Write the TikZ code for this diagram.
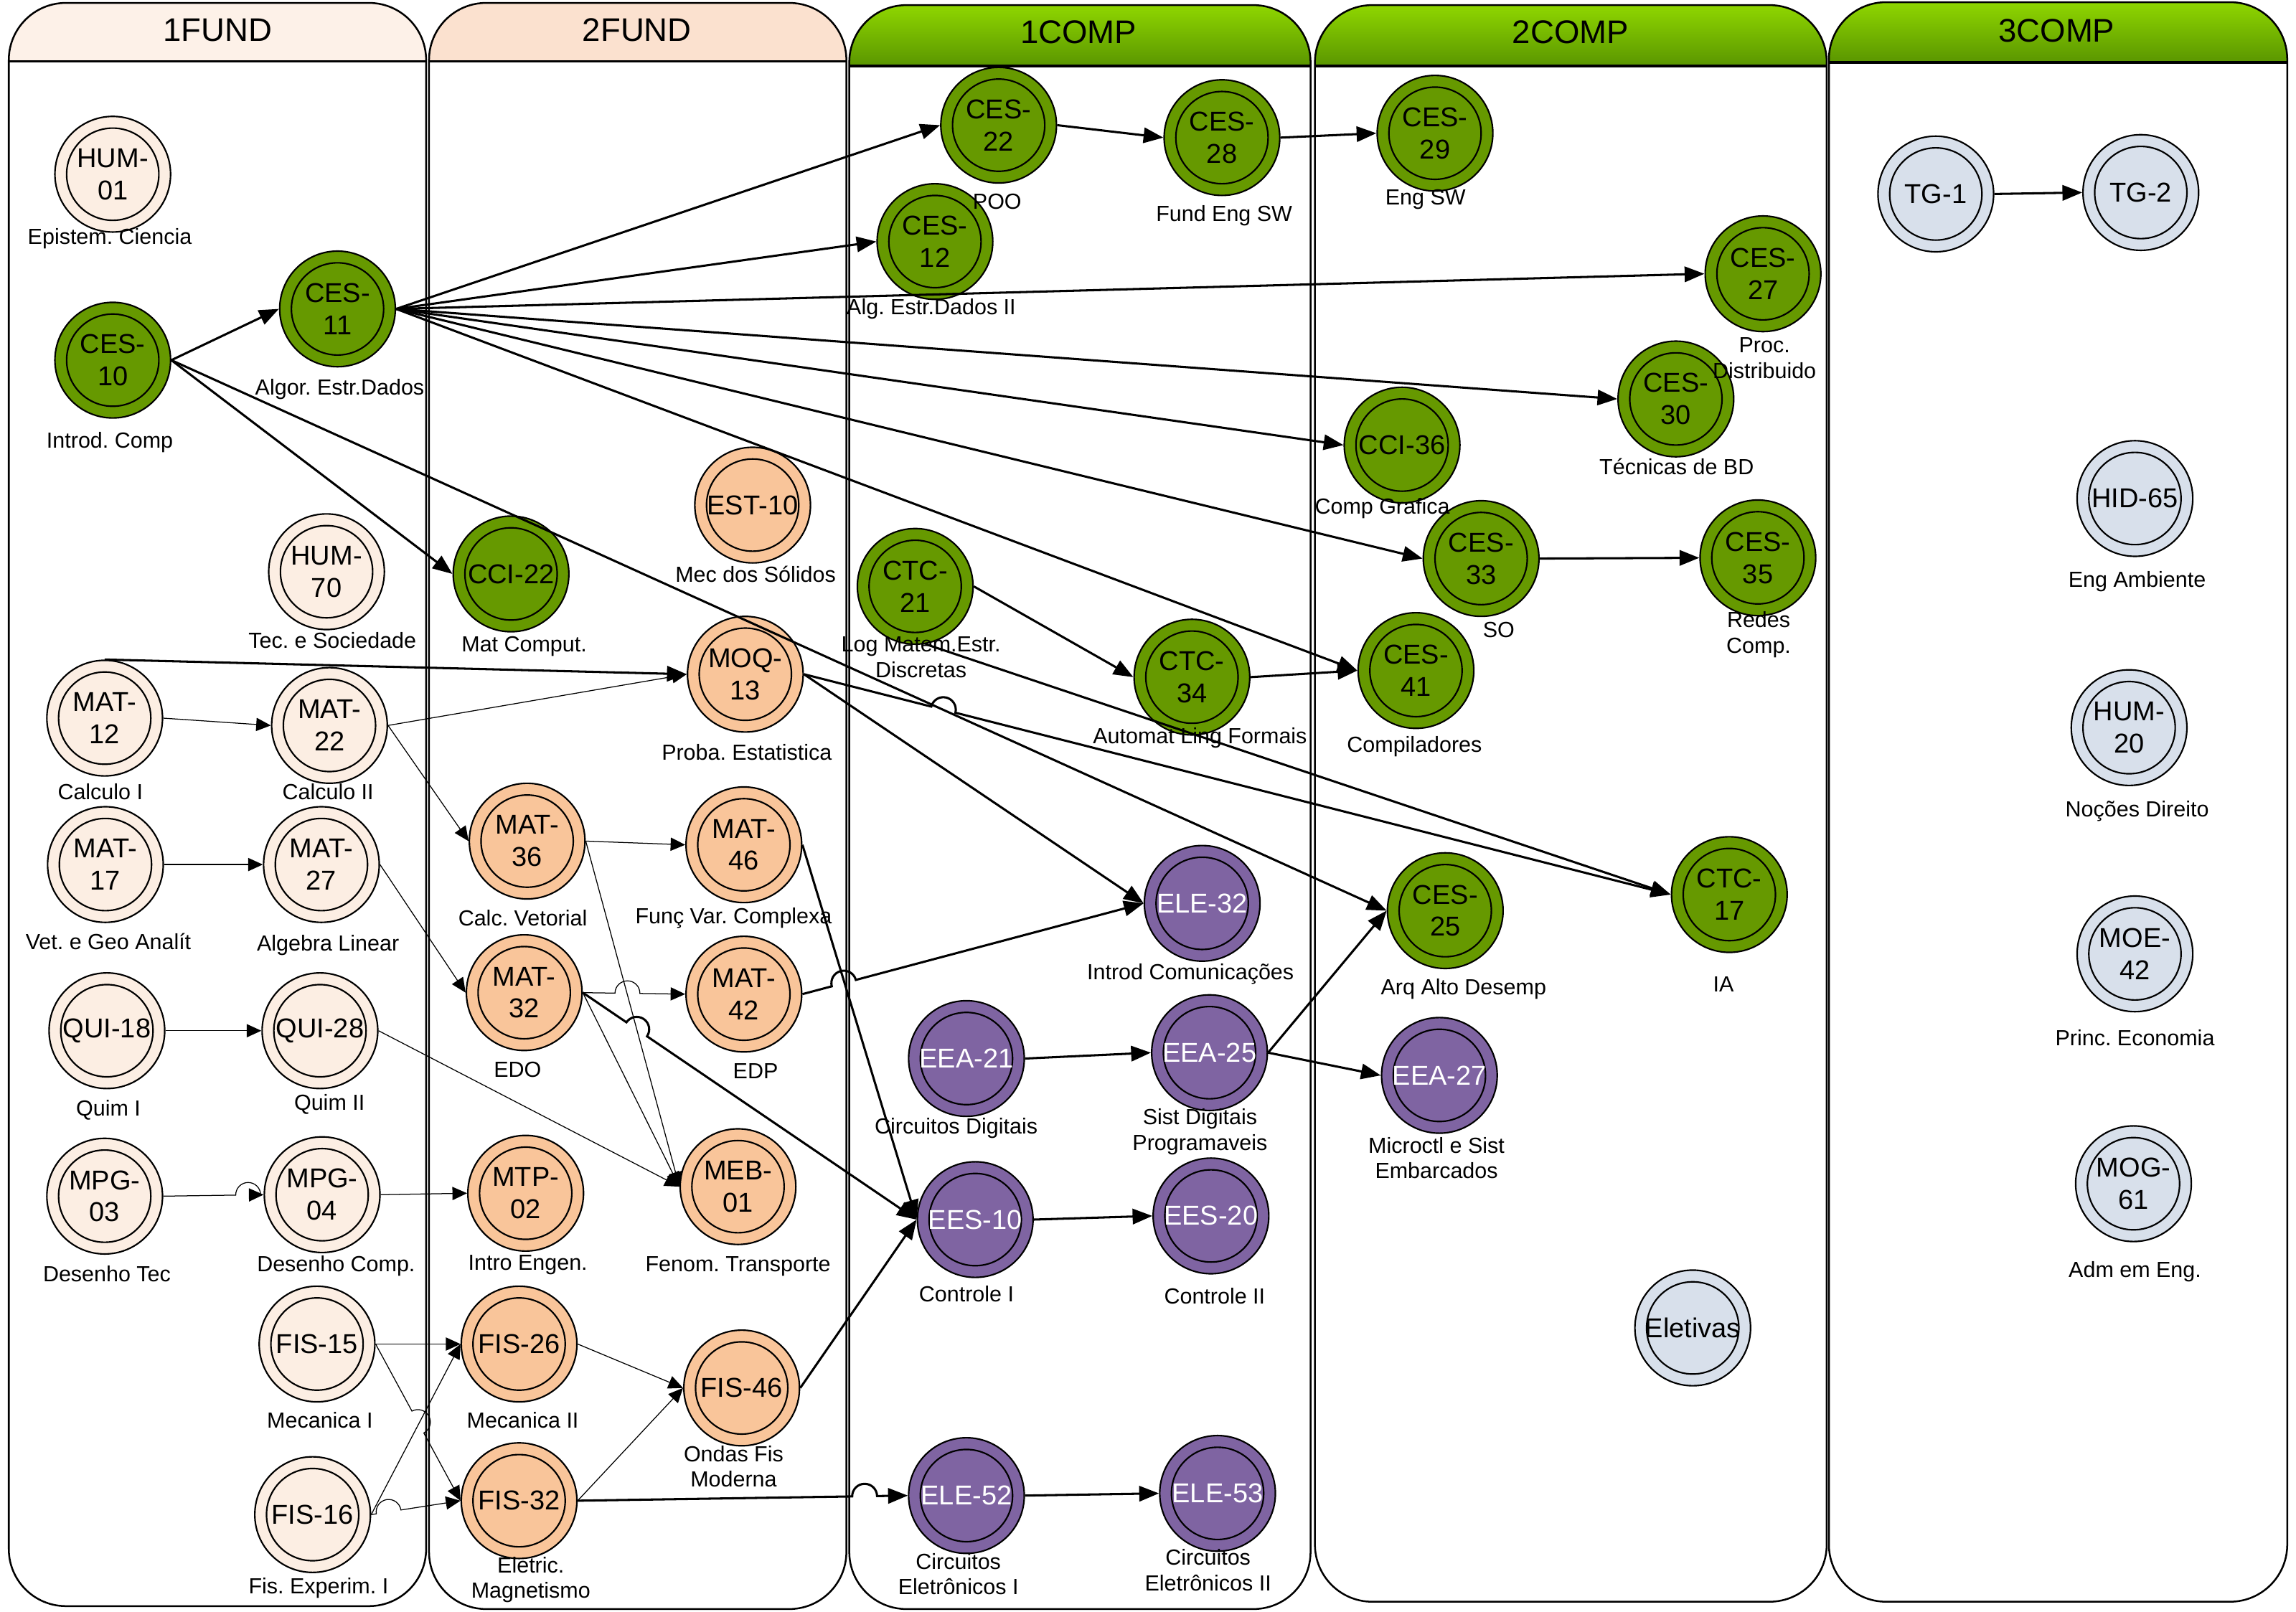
\documentclass[tikz,border=0pt]{standalone}
\usepackage{fontspec}
\setmainfont{Liberation Sans}
\usetikzlibrary{arrows.meta,calc}
\frenchspacing
\definecolor{cFA}{HTML}{FCEEE3}
\definecolor{cOR}{HTML}{F9C59A}
\definecolor{cGR}{HTML}{669900}
\definecolor{cPU}{HTML}{7F64A2}
\definecolor{cBL}{HTML}{D8E0EB}
\definecolor{hFa}{HTML}{FDF1E8}
\definecolor{hFb}{HTML}{FBE1CF}
\definecolor{gTop}{HTML}{8FD600}
\definecolor{gBot}{HTML}{5A9600}
\newcommand\hop[4][thn]{\draw[#1] let \p1=($(#3)-(#2)$), \n1={atan2(\y1,\x1)}, \n2={atan2(\y1,\x1)+180} in (#2) -- ($(#2)!(#4)!(#3)$) arc[start angle=\n2, end angle=\n1, radius=0.17cm] -- (#3);}
\newcommand\lane[6]{%
  \begin{scope}
    \clip[rounded corners=0.78cm] (#1,#3) rectangle (#2,#5);
    \fill[#6] (#1,#3) rectangle (#2,#4);
  \end{scope}
  \draw[line width=1pt] (#1,#4) -- (#2,#4);
  \draw[line width=0.7pt, rounded corners=0.78cm] (#1,#3) rectangle (#2,#5);
}
\begin{document}
\begin{tikzpicture}[x=0.02cm,y=-0.02cm,
  course/.style={circle, draw, line width=0.6pt, minimum size=1.58cm, inner sep=0pt, align=center,
    font=\fontsize{10.6}{12.5}\selectfont,
    path picture={\draw[line width=0.6pt] (path picture bounding box.center) circle[radius=0.63cm];}},
  fa/.style={course, fill=cFA},
  or/.style={course, fill=cOR},
  gr/.style={course, fill=cGR},
  pu/.style={course, fill=cPU, text=white},
  bl/.style={course, fill=cBL},
  lbl/.style={align=center, inner sep=0pt, font=\fontsize{8.5}{9.9}\selectfont},
  hdr/.style={inner sep=0pt, font=\fontsize{12.7}{14}\selectfont},
  thk/.style={line width=0.85pt, -{Triangle[length=0.27cm,width=0.21cm]}},
  thn/.style={line width=0.35pt, -{Triangle[length=0.2cm,width=0.18cm]}}]
\useasboundingbox (0,0) rectangle (1568,1101);
\fill[white] (0,0) rectangle (1568,1101);

% lanes
\lane{6}{291}{2}{42}{1097}{fill=hFa}
\lane{293}{578}{2}{42}{1099}{fill=hFb}
\lane{580}{895}{3.5}{45}{1099}{top color=gTop,bottom color=gBot}
\lane{898}{1247.5}{3.5}{45}{1094}{top color=gTop,bottom color=gBot}
\lane{1249}{1562}{1.5}{42.5}{1094}{top color=gTop,bottom color=gBot}
\node[hdr] (h1) at (148.5,20.5) {1FUND};
\node[hdr] (h2) at (435,20.5) {2FUND};
\node[hdr] (h3) at (736.5,22) {1COMP};
\node[hdr] (h4) at (1072.5,22) {2COMP};
\node[hdr] (h5) at (1404.5,21) {3COMP};

% 1FUND
\node[fa] (hum01) at (77,119) {HUM-\\01};
\node[gr] (ces10) at (77,246) {CES-\\10};
\node[gr] (ces11) at (230.5,211) {CES-\\11};
\node[fa] (hum70) at (223,390.5) {HUM-\\70};
\node[fa] (mat12) at (71.5,490.5) {MAT-\\12};
\node[fa] (mat22) at (225,495.5) {MAT-\\22};
\node[fa] (mat17) at (72,590.5) {MAT-\\17};
\node[fa] (mat27) at (219.5,590.5) {MAT-\\27};
\node[fa] (qui18) at (73,704) {QUI-18};
\node[fa] (qui28) at (218.5,704) {QUI-28};
\node[fa] (mpg03) at (71.5,817) {MPG-\\03};
\node[fa] (mpg04) at (220,816) {MPG-\\04};
\node[fa] (fis15) at (216.5,918) {FIS-15};
\node[fa] (fis16) at (213.5,1034.5) {FIS-16};
% 2FUND
\node[gr] (cci22) at (349,392) {CCI-22};
\node[or] (est10) at (514,345) {EST-10};
\node[or] (moq13) at (509,460.5) {MOQ-\\13};
\node[or] (mat36) at (360,574.5) {MAT-\\36};
\node[or] (mat46) at (508,577) {MAT-\\46};
\node[or] (mat32) at (358,678) {MAT-\\32};
\node[or] (mat42) at (508,679) {MAT-\\42};
\node[or] (mtp02) at (359,815) {MTP-\\02};
\node[or] (meb01) at (504,810.5) {MEB-\\01};
\node[or] (fis26) at (354.5,918) {FIS-26};
\node[or] (fis46) at (506.5,948) {FIS-46};
\node[or] (fis32) at (354.5,1025) {FIS-32};
% 1COMP
\node[gr] (ces22) at (682,85.5) {CES-\\22};
\node[gr] (ces28) at (834.5,94) {CES-\\28};
\node[gr] (ces12) at (638.5,165) {CES-\\12};
\node[gr] (ctc21) at (625,400.5) {CTC-\\21};
\node[gr] (ctc34) at (814,462.5) {CTC-\\34};
\node[pu] (ele32) at (821,617) {ELE-32};
\node[pu] (eea21) at (660,723) {EEA-21};
\node[pu] (eea25) at (826,719) {EEA-25};
\node[pu] (ees10) at (666,833) {EES-10};
\node[pu] (ees20) at (827,830.5) {EES-20};
\node[pu] (ele52) at (660,1021.5) {ELE-52};
\node[pu] (ele53) at (831.5,1020) {ELE-53};
% 2COMP
\node[gr] (ces29) at (980,91) {CES-\\29};
\node[gr] (ces27) at (1204,187) {CES-\\27};
\node[gr] (ces30) at (1144.5,272.5) {CES-\\30};
\node[gr] (cci36) at (957.5,304) {CCI-36};
\node[gr] (ces33) at (1011.5,381.5) {CES-\\33};
\node[gr] (ces35) at (1200.5,381) {CES-\\35};
\node[gr] (ces41) at (967,458) {CES-\\41};
\node[gr] (ces25) at (987,622) {CES-\\25};
\node[pu] (eea27) at (983,734.5) {EEA-27};
\node[gr] (ctc17) at (1181,611) {CTC-\\17};
\node[bl] (eletivas) at (1156,907) {Eletivas};
% 3COMP
\node[bl] (tg1) at (1322,132.5) {TG-1};
\node[bl] (tg2) at (1462,131.5) {TG-2};
\node[bl] (hid65) at (1458,340.5) {HID-65};
\node[bl] (hum20) at (1454,497) {HUM-\\20};
\node[bl] (moe42) at (1458,651.5) {MOE-\\42};
\node[bl] (mog61) at (1457,808.5) {MOG-\\61};

% labels
\node[lbl] (l1) at (75,163) {Epistem. Ciencia};
\node[lbl] (l2) at (75,302) {Introd. Comp};
\node[lbl] (l3) at (232,266) {Algor. Estr.Dados};
\node[lbl] (l4) at (227,437.5) {Tec. e Sociedade};
\node[lbl] (l5) at (68.5,541) {Calculo I};
\node[lbl] (l6) at (224,541) {Calculo II};
\node[lbl] (l7) at (74,643) {Vet. e Geo Analít};
\node[lbl] (l8) at (224,645.5) {Algebra Linear};
\node[lbl] (l9) at (74,758) {Quim I};
\node[lbl] (l10) at (225,754.5) {Quim II};
\node[lbl] (l11) at (73,870) {Desenho Tec};
\node[lbl] (l12) at (229.5,864.5) {Desenho Comp.};
\node[lbl] (l13) at (218.5,970) {Mecanica I};
\node[lbl] (l14) at (217.5,1084.5) {Fis. Experim. I};
\node[lbl] (l15) at (358,441.5) {Mat Comput.};
\node[lbl] (l16) at (516,392) {Mec dos Sólidos};
\node[lbl] (l17) at (510,514) {Proba. Estatistica};
\node[lbl] (l18) at (357,627) {Calc. Vetorial};
\node[lbl] (l19) at (501,627) {Funç Var. Complexa};
\node[lbl] (l20) at (353.5,730.5) {EDO};
\node[lbl] (l21) at (516,731.5) {EDP};
\node[lbl] (l22) at (360.5,864) {Intro Engen.};
\node[lbl] (l23) at (504,865) {Fenom. Transporte};
\node[lbl] (l24) at (357,970) {Mecanica II};
\node[lbl] (l25) at (501,1001.5) {Ondas Fis\\Moderna};
\node[lbl] (l26) at (362.5,1079) {Eletric.\\Magnetismo};
\node[lbl] (l27) at (681,137.5) {POO};
\node[lbl] (l28) at (836,147.5) {Fund Eng SW};
\node[lbl] (l29) at (636,211) {Alg. Estr.Dados II};
\node[lbl] (l30) at (629,449) {Log Matem.Estr.\\Discretas};
\node[lbl] (l31) at (819.5,504) {Automat Ling Formais};
\node[lbl] (l32) at (813,665.5) {Introd Comunicações};
\node[lbl] (l33) at (653,770.5) {Circuitos Digitais};
\node[lbl] (l34) at (819.5,773) {Sist Digitais\\Programaveis};
\node[lbl] (l35) at (660,884) {Controle I};
\node[lbl] (l36) at (829.5,885) {Controle II};
\node[lbl] (l37) at (654.5,1075) {Circuitos\\Eletrônicos I};
\node[lbl] (l38) at (825,1072.5) {Circuitos\\Eletrônicos II};
\node[lbl] (l39) at (973.5,136) {Eng SW};
\node[lbl] (l40) at (1205,244.5) {Proc.\\Distribuido};
\node[lbl] (l41) at (1145,318.5) {Técnicas de BD};
\node[lbl] (l42) at (944,347) {Comp Grafica};
\node[lbl] (l43) at (1023.5,430) {SO};
\node[lbl] (l44) at (1201,433.5) {Redes\\Comp.};
\node[lbl] (l45) at (966,510) {Compiladores};
\node[lbl] (l46) at (999.5,675.5) {Arq Alto Desemp};
\node[lbl] (l47) at (981,791) {Microctl e Sist\\Embarcados};
\node[lbl] (l48) at (1177,672.5) {IA};
\node[lbl] (l49) at (1459.5,397) {Eng Ambiente};
\node[lbl] (l50) at (1459.5,554) {Noções Direito};
\node[lbl] (l51) at (1458,709) {Princ. Economia};
\node[lbl] (l52) at (1458,868.5) {Adm em Eng.};

% thick connectors
\draw[thk] (ces10.east) -- (ces11.west);
\draw[thk] (ces10.east) -- (cci22.west);
\draw[thk] (ces10.east) -- (ces25.west);
\foreach \t in {ces22,ces12,ces27,ces30,cci36,ces33,ces41}
  \draw[thk] (ces11.east) -- (\t.west);
\draw[thk] (ces22.east) -- (ces28.west);
\draw[thk] (ces28.east) -- (ces29.west);
\draw[thk] (ctc21.east) -- (ctc34.west);
\draw[thk] (ctc34.east) -- (ces41.west);
\draw[thk] (ctc21.-80) -- (ctc17.west);
\draw[thk] (ces33.east) -- (ces35.west);
\draw[thk] (tg1.east) -- (tg2.west);
\draw[thk] (mat12.north) -- (moq13.west);
\draw[thk] (moq13.east) -- (ele32.west);
\hop[thk]{moq13.east}{ctc17.west}{636,482.6}
\hop[thk]{mat42.east}{ele32.west}{568,673.5}
\draw[thk] (mat46.east) -- (ees10.west);
\hop[thk]{mat32.east}{ees10.west}{428,698}
\draw[thk] (fis46.east) -- (ees10.west);
\hop[thk]{fis32.east}{ele52.west}{582,1023}
\draw[thk] (eea21.east) -- (eea25.west);
\draw[thk] (eea25.east) -- (ces25.west);
\draw[thk] (eea25.east) -- (eea27.west);
\draw[thk] (ees10.east) -- (ees20.west);
\draw[thk] (ele52.east) -- (ele53.west);

% thin connectors
\draw[thn] (mat12.east) -- (mat22.west);
\draw[thn] (mat22.east) -- (moq13.west);
\draw[thn] (mat22.east) -- (mat36.west);
\draw[thn] (mat17.east) -- (mat27.west);
\draw[thn] (mat27.east) -- (mat32.west);
\draw[thn] (qui18.east) -- (qui28.west);
\draw[thn] (qui28.east) -- (meb01.west);
\hop{mpg03.east}{mpg04.west}{161,817}
\draw[thn] (mpg04.east) -- (mtp02.west);
\draw[thn] (fis15.east) -- (fis26.west);
\hop{fis15.east}{fis32.west}{281,964}
\draw[thn] (fis16.east) -- (fis26.west);
\hop{fis16.east}{fis32.west}{257,1034}
\draw[thn] (fis26.east) -- (fis46.west);
\draw[thn] (fis32.east) -- (fis46.west);
\draw[thn] (mat36.east) -- (mat46.west);
\draw[thn] (mat36.east) -- (meb01.west);
\hop{mat32.east}{mat42.west}{420,678}
\draw[thn] (mat32.east) -- (meb01.west);
\end{tikzpicture}
\end{document}
